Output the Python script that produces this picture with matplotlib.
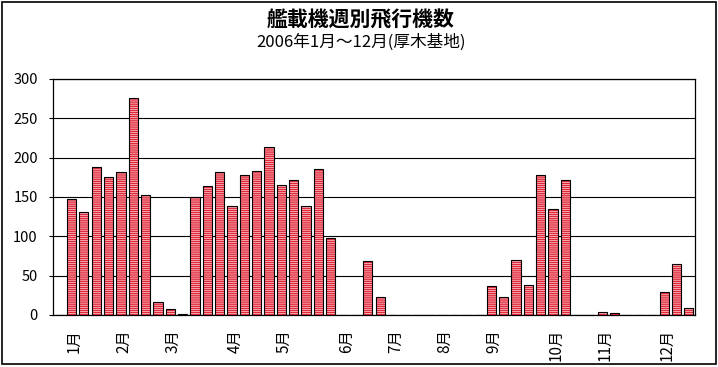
import numpy as np
import matplotlib
matplotlib.use('Agg')
import matplotlib.pyplot as plt
import matplotlib.transforms as mtrans
from matplotlib.patches import Rectangle

plt.rcParams['font.family'] = ['Noto Sans CJK JP', 'DejaVu Sans']
plt.rcParams['hatch.linewidth'] = 0.45

# 週ごとの飛行機数 (52週)
weeks = list(range(52))
counts = [0, 147, 131, 188, 175, 182, 276, 152, 16, 8,
          1, 150, 164, 182, 139, 178, 183, 214, 165, 172,
          139, 186, 98, 0, 0, 69, 23, 0, 0, 0,
          0, 0, 0, 0, 0, 37, 23, 70, 38, 178,
          135, 172, 0, 0, 4, 2, 0, 0, 0, 29,
          65, 9]

# 月ラベルの位置
month_pos = [1, 5, 9, 14, 18, 23, 27, 31, 35, 40, 44, 49]
month_labels = ['1月', '2月', '3月', '4月', '5月', '6月', '7月', '8月',
                '9月', '10月', '11月', '12月']

title = '艦載機週別飛行機数'
subtitle = '2006年1月～12月(厚木基地)'

fig = plt.figure(figsize=(7.18, 3.67), dpi=100)
ax = fig.add_axes([53 / 718, 52 / 367, 642 / 718, 236 / 367])

# 縞模様の棒 + 黒い枠
ax.bar(weeks, counts, width=0.75, color='#E0283A', edgecolor='#FFE8EA',
       hatch='--------', linewidth=0, zorder=3)
ax.bar(weeks, counts, width=0.75, color='none', edgecolor='black',
       linewidth=0.8, zorder=4)

ax.set_xlim(-0.5, 51.5)
ax.set_ylim(0, 300)
ax.set_yticks(np.arange(0, 301, 50))
ax.yaxis.grid(True, color='black', linewidth=0.8)
ax.set_axisbelow(True)
ax.tick_params(axis='y', direction='out', length=3, width=0.8, pad=8,
               labelsize=10.5)
ax.set_xticks(month_pos)
ax.set_xticklabels(month_labels, rotation=90, fontsize=11)
ax.tick_params(axis='x', length=0, pad=10)
shift = mtrans.ScaledTranslation(3 / 100, 0, fig.dpi_scale_trans)
for lab in ax.get_xticklabels():
    lab.set_transform(lab.get_transform() + shift)
for s in ax.spines.values():
    s.set_color('black')
    s.set_linewidth(0.9)

fig.text(361 / 718, 1 - 20 / 367, title, ha='center', va='center',
         fontsize=15, fontweight='bold')
fig.text(361 / 718, 1 - 42 / 367, subtitle, ha='center', va='center',
         fontsize=12)

# 外枠
fig.patches.append(Rectangle((1.5 / 718, 3 / 367), 714.5 / 718, 362 / 367,
                             transform=fig.transFigure, fill=False,
                             edgecolor='black', linewidth=1.2))

fig.savefig('out.png', dpi=100)
